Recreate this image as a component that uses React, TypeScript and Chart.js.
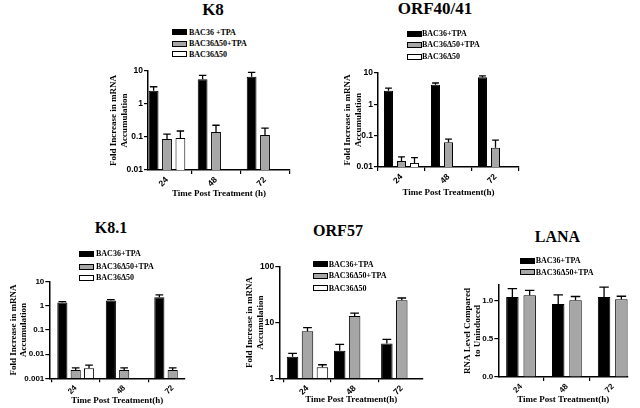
import React, { useEffect, useRef } from 'react';
import { Chart, registerables } from 'chart.js';
Chart.register(...registerables);

// ---------- data ----------
const hours = [24, 48, 72];
const nameTpa = 'BAC36+TPA';
const nameD50Tpa = 'BAC36Δ50+TPA';
const nameD50 = 'BAC36Δ50';

const logTicks3 = [0.01, 0.1, 1, 10];
const logTicks4 = [0.001, 0.01, 0.1, 1, 10];
const logTicksOrf57 = [1, 10, 100];
const lanaTicks = [0, 0.5, 1];

// K8
const k8Tpa = [2.53, 5.6, 6.7];
const k8TpaErr = [0.8, 1.8, 2.4];
const k8D50Tpa = [0.087, 0.142, 0.115];
const k8D50TpaErr = [0.036, 0.085, 0.07];
const k8D50 = [0.093, null, null];
const k8D50Err = [0.059, null, null];

// ORF40/41
const orf40Tpa = [2.7, 4.24, 7.3];
const orf40TpaErr = [0.6, 0.55, 0.8];
const orf40D50Tpa = [0.0156, 0.0622, 0.041];
const orf40D50TpaErr = [0.0053, 0.0155, 0.031];
const orf40D50 = [0.0135, null, null];
const orf40D50Err = [0.0065, null, null];

// K8.1
const k81Tpa = [1.37, 1.66, 2.29];
const k81TpaErr = [0.13, 0.15, 0.55];
const k81D50Tpa = [0.0022, 0.0022, 0.0022];
const k81D50TpaErr = [0.0005, 0.0005, 0.0005];
const k81D50 = [0.0026, null, null];
const k81D50Err = [0.0009, null, null];

// ORF57
const orf57Tpa = [2.43, 3.11, 4.22];
const orf57TpaErr = [0.36, 0.94, 0.75];
const orf57D50Tpa = [7.0, 13.1, 25];
const orf57D50TpaErr = [1.1, 1.6, 2.5];
const orf57D50 = [1.57, null, null];
const orf57D50Err = [0.18, null, null];

// LANA
const lanaTpa = [1.043, 0.952, 1.043];
const lanaTpaErr = [0.11, 0.12, 0.13];
const lanaD50Tpa = [1.065, 1.0, 1.013];
const lanaD50TpaErr = [0.065, 0.05, 0.04];

// ---------- styles ----------
const BLACK = '#000000';
const GRAY = '#a6a6a6';
const WHITE = '#ffffff';
const SERIF = '"Liberation Serif", "DejaVu Serif", serif';
const SANS = '"Liberation Sans", Arial, sans-serif';
const AXIS_TITLE_SIZE = 9;
const AXIS_TITLE_LH = 1.15;

const errorBarPlugin = {
  id: 'errorBars',
  afterDatasetsDraw(chart: any) {
    const ctx = chart.ctx;
    const yScale = chart.scales.y;
    chart.data.datasets.forEach((ds: any, di: number) => {
      const meta = chart.getDatasetMeta(di);
      const errs = ds.errors;
      if (!errs) return;
      meta.data.forEach((bar: any, i: number) => {
        const v = ds.data[i];
        const e = errs[i];
        if (v == null || e == null) return;
        const { x, y, width } = bar.getProps(['x', 'y', 'width'], true);
        const yTop = yScale.getPixelForValue(v + e);
        const half = width * 0.38;
        ctx.save();
        ctx.strokeStyle = '#000';
        ctx.lineWidth = 1.3;
        ctx.beginPath();
        ctx.moveTo(x, y);
        ctx.lineTo(x, yTop);
        ctx.moveTo(x - half, yTop);
        ctx.lineTo(x + half, yTop);
        ctx.stroke();
        ctx.restore();
      });
    });
  },
};

type Box = { l: number; t: number; r: number; b: number };
type DS = { label: string; data: (number | null)[]; errors: (number | null)[]; color: string };
type PanelCfg = {
  title: string;
  titleX: number;
  titleY: number;
  titleSize: number;
  legendBoxX: number;
  legendTextX: number;
  legendRows: number[];
  legendLabels: string[];
  canvas: Box;
  plot: Box;
  xMin: number;
  xMax: number;
  yType: 'logarithmic' | 'linear';
  yMin: number;
  yMax: number;
  yTicks: number[];
  yFmt: (v: number) => string;
  yTitle: string[];
  yTitleX: number;
  xTitle: string;
  xTitleY: number;
  tickSize: number;
  cat: number;
  bar: number;
  datasets: DS[];
};

function Panel({ cfg }: { cfg: PanelCfg }) {
  const ref = useRef<HTMLCanvasElement>(null);
  const w = cfg.canvas.r - cfg.canvas.l;
  const h = cfg.canvas.b - cfg.canvas.t;
  useEffect(() => {
    const lh = AXIS_TITLE_SIZE * AXIS_TITLE_LH;
    const yW = cfg.plot.l - cfg.canvas.l;
    const xH = cfg.canvas.b - cfg.plot.b;
    const tickFont = { family: SANS, weight: 'bold' as const, size: cfg.tickSize };
    const titleFont = { family: SERIF, weight: 'bold' as const, size: AXIS_TITLE_SIZE, lineHeight: AXIS_TITLE_LH };
    const chart = new Chart(ref.current as HTMLCanvasElement, {
      type: 'bar',
      data: {
        labels: hours,
        datasets: cfg.datasets.map((d) => ({
          label: d.label,
          data: d.data,
          errors: d.errors,
          backgroundColor: d.color,
          borderColor: BLACK,
          borderWidth: 1,
          borderSkipped: 'bottom',
          categoryPercentage: cfg.cat,
          barPercentage: cfg.bar,
        })) as any,
      },
      options: {
        responsive: false,
        animation: false,
        devicePixelRatio: 1,
        layout: {
          padding: {
            top: cfg.plot.t - cfg.canvas.t,
            right: cfg.canvas.r - cfg.plot.r,
            left: 0,
            bottom: 0,
          },
        },
        plugins: { legend: { display: false }, title: { display: false }, tooltip: { enabled: false } },
        scales: {
          x: {
            type: 'linear',
            min: cfg.xMin,
            max: cfg.xMax,
            offset: false,
            afterBuildTicks: (s: any) => {
              s.ticks = hours.map((v) => ({ value: v }));
            },
            afterFit: (s: any) => {
              s.height = xH;
            },
            grid: { display: true, drawOnChartArea: false, drawTicks: true, tickLength: 4, color: BLACK, lineWidth: 1.2 },
            border: { display: true, color: BLACK, width: 1.5 },
            ticks: {
              autoSkip: false,
              minRotation: 45,
              maxRotation: 45,
              padding: 1,
              color: BLACK,
              font: tickFont,
              callback: (v: any) => String(v),
            },
            title: {
              display: true,
              text: cfg.xTitle,
              color: BLACK,
              font: titleFont,
              padding: { top: 0, bottom: Math.max(0, cfg.canvas.b - cfg.xTitleY - lh / 2) },
            },
          },
          y: {
            type: cfg.yType,
            min: cfg.yMin,
            max: cfg.yMax,
            afterBuildTicks: (s: any) => {
              s.ticks = cfg.yTicks.map((v) => ({ value: v }));
            },
            afterFit: (s: any) => {
              s.width = yW;
            },
            grid: { display: true, drawOnChartArea: false, drawTicks: true, tickLength: 4, color: BLACK, lineWidth: 1.2 },
            border: { display: true, color: BLACK, width: 1.5 },
            ticks: {
              autoSkip: false,
              padding: 1,
              color: BLACK,
              font: tickFont,
              callback: (v: any) => cfg.yFmt(Number(v)),
            },
            title: {
              display: true,
              text: cfg.yTitle,
              color: BLACK,
              font: titleFont,
              padding: { top: Math.max(0, cfg.yTitleX - cfg.canvas.l - lh / 2), bottom: 0 },
            },
          } as any,
        },
      },
      plugins: [errorBarPlugin],
    } as any);
    return () => chart.destroy();
  }, []);

  const legendColors = cfg.datasets.map((d) => d.color);
  return (
    <>
      <canvas
        ref={ref}
        width={w}
        height={h}
        style={{ position: 'absolute', left: cfg.canvas.l, top: cfg.canvas.t, width: w, height: h }}
      />
      <div
        style={{
          position: 'absolute',
          left: cfg.titleX,
          top: cfg.titleY - cfg.titleSize * 0.506,
          transform: 'translateX(-50%)',
          font: `bold ${cfg.titleSize}px ${SERIF}`,
          lineHeight: `${cfg.titleSize}px`,
          whiteSpace: 'nowrap',
          color: '#000',
        }}
      >
        {cfg.title}
      </div>
      {cfg.legendRows.map((ry, i) => (
        <React.Fragment key={i}>
          <div
            style={{
              position: 'absolute',
              left: cfg.legendBoxX,
              top: ry - 3,
              width: 15,
              height: 6,
              boxSizing: 'border-box',
              border: '1px solid #000',
              background: legendColors[i],
            }}
          />
          <div
            style={{
              position: 'absolute',
              left: cfg.legendTextX,
              top: ry - 4.55,
              font: `bold 8px ${SERIF}`,
              lineHeight: '9px',
              whiteSpace: 'nowrap',
              color: '#000',
            }}
          >
            {cfg.legendLabels[i]}
          </div>
        </React.Fragment>
      ))}
    </>
  );
}

const fmtLog = (v: number) => String(v);
const fmtLin = (v: number) => v.toFixed(1);
const foldTitle = ['Fold Increase in mRNA', 'Accumulation'];

const panels: PanelCfg[] = [
  {
    title: 'K8', titleX: 213, titleY: 9.5, titleSize: 17,
    legendBoxX: 172, legendTextX: 189, legendRows: [32.3, 43.7, 54.3],
    legendLabels: ['BAC36 +TPA', nameD50Tpa, nameD50],
    canvas: { l: 104, t: 60, r: 296, b: 202 },
    plot: { l: 148, t: 71, r: 290, b: 170 },
    xMin: 14.69, xMax: 84.24,
    yType: 'logarithmic', yMin: 0.01, yMax: 10, yTicks: logTicks3, yFmt: fmtLog,
    yTitle: foldTitle, yTitleX: 114, xTitle: 'Time Post Treatment (h)', xTitleY: 194,
    tickSize: 8.5, cat: 0.82, bar: 0.73,
    datasets: [
      { label: nameTpa, data: k8Tpa, errors: k8TpaErr, color: BLACK },
      { label: nameD50Tpa, data: k8D50Tpa, errors: k8D50TpaErr, color: GRAY },
      { label: nameD50, data: k8D50, errors: k8D50Err, color: WHITE },
    ],
  },
  {
    title: 'ORF40/41', titleX: 435, titleY: 8.5, titleSize: 17,
    legendBoxX: 406.7, legendTextX: 422, legendRows: [34, 45, 56.7],
    legendLabels: [nameTpa, nameD50Tpa, nameD50],
    canvas: { l: 336, t: 60, r: 525, b: 201 },
    plot: { l: 378, t: 73, r: 519, b: 167 },
    xMin: 12, xMax: 84,
    yType: 'logarithmic', yMin: 0.01, yMax: 10, yTicks: logTicks3, yFmt: fmtLog,
    yTitle: foldTitle, yTitleX: 348, xTitle: 'Time Post Treatment(h)', xTitleY: 193,
    tickSize: 8.5, cat: 0.83, bar: 0.69,
    datasets: [
      { label: nameTpa, data: orf40Tpa, errors: orf40TpaErr, color: BLACK },
      { label: nameD50Tpa, data: orf40D50Tpa, errors: orf40D50TpaErr, color: GRAY },
      { label: nameD50, data: orf40D50, errors: orf40D50Err, color: WHITE },
    ],
  },
  {
    title: 'K8.1', titleX: 111, titleY: 228, titleSize: 16,
    legendBoxX: 79, legendTextX: 96, legendRows: [254, 267, 278],
    legendLabels: [nameTpa, nameD50Tpa, nameD50],
    canvas: { l: 4, t: 268, r: 190, b: 408 },
    plot: { l: 49.3, t: 281.7, r: 185, b: 378.3 },
    xMin: 10.94, xMax: 78.09,
    yType: 'logarithmic', yMin: 0.001, yMax: 10, yTicks: logTicks4, yFmt: fmtLog,
    yTitle: foldTitle, yTitleX: 13.3, xTitle: 'Time Post Treatment(h)', xTitleY: 401,
    tickSize: 8, cat: 0.825, bar: 0.76,
    datasets: [
      { label: nameTpa, data: k81Tpa, errors: k81TpaErr, color: BLACK },
      { label: nameD50Tpa, data: k81D50Tpa, errors: k81D50TpaErr, color: GRAY },
      { label: nameD50, data: k81D50, errors: k81D50Err, color: WHITE },
    ],
  },
  {
    title: 'ORF57', titleX: 338, titleY: 230.8, titleSize: 16,
    legendBoxX: 312.7, legendTextX: 328.7, legendRows: [264.3, 276, 288.3],
    legendLabels: [nameTpa, nameD50Tpa, nameD50],
    canvas: { l: 236, t: 255, r: 430, b: 408 },
    plot: { l: 279.3, t: 266.7, r: 423, b: 378.3 },
    xMin: 9.65, xMax: 82.8,
    yType: 'logarithmic', yMin: 1, yMax: 100, yTicks: logTicksOrf57, yFmt: fmtLog,
    yTitle: foldTitle, yTitleX: 250, xTitle: 'Time Post Treatment(h)', xTitleY: 399.3,
    tickSize: 8.5, cat: 0.95, bar: 0.77,
    datasets: [
      { label: nameTpa, data: orf57Tpa, errors: orf57TpaErr, color: BLACK },
      { label: nameD50Tpa, data: orf57D50Tpa, errors: orf57D50TpaErr, color: GRAY },
      { label: nameD50, data: orf57D50, errors: orf57D50Err, color: WHITE },
    ],
  },
  {
    title: 'LANA', titleX: 557.5, titleY: 236.7, titleSize: 16,
    legendBoxX: 520, legendTextX: 535.7, legendRows: [261, 272.3],
    legendLabels: [nameTpa, nameD50Tpa],
    canvas: { l: 454, t: 278, r: 636, b: 408 },
    plot: { l: 498.3, t: 285, r: 628, b: 377 },
    xMin: 12.1, xMax: 80,
    yType: 'linear', yMin: 0, yMax: 1.2, yTicks: lanaTicks, yFmt: fmtLin,
    yTitle: ['RNA Level Compared', 'to Uninduced'], yTitleX: 467.5, xTitle: 'Time Post Treatment(h)', xTitleY: 400,
    tickSize: 8, cat: 0.755, bar: 0.72,
    datasets: [
      { label: nameTpa, data: lanaTpa, errors: lanaTpaErr, color: BLACK },
      { label: nameD50Tpa, data: lanaD50Tpa, errors: lanaD50TpaErr, color: GRAY },
    ],
  },
];

export default function App() {
  return (
    <div style={{ position: 'absolute', left: 0, top: 0, width: 640, height: 408, background: '#fff', overflow: 'hidden' }}>
      {panels.map((p, i) => (
        <Panel key={i} cfg={p} />
      ))}
    </div>
  );
}
